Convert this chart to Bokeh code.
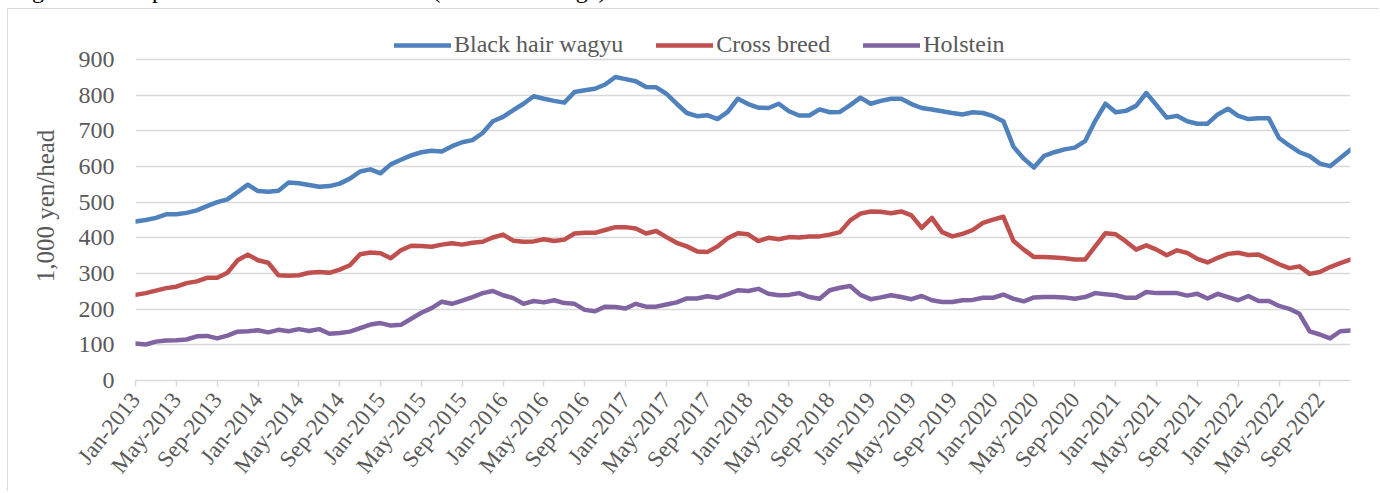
import math
from bokeh.plotting import figure
from bokeh.layouts import column
from bokeh.models import Range1d, FixedTicker, Legend, LegendItem, Div
from bokeh.embed import file_html
from bokeh.resources import INLINE

tick_labels = ["Jan-2013", "May-2013", "Sep-2013", "Jan-2014", "May-2014", "Sep-2014",
               "Jan-2015", "May-2015", "Sep-2015", "Jan-2016", "May-2016", "Sep-2016",
               "Jan-2017", "May-2017", "Sep-2017", "Jan-2018", "May-2018", "Sep-2018",
               "Jan-2019", "May-2019", "Sep-2019", "Jan-2020", "May-2020", "Sep-2020",
               "Jan-2021", "May-2021", "Sep-2021", "Jan-2022", "May-2022", "Sep-2022"]

black_wagyu = [446, 450, 456, 466, 466, 470, 477, 489, 500, 508, 528, 549,
               531, 529, 532, 555, 553, 548, 543, 545, 552, 566, 586, 592,
               581, 606, 619, 631, 640, 644, 642, 657, 668, 674, 694, 727,
               739, 758, 776, 797, 790, 784, 779, 809, 814, 818, 830, 851,
               845, 839, 823, 822, 804, 776, 750, 741, 744, 733, 753, 790,
               775, 765, 764, 776, 755, 743, 743, 760, 752, 753, 772, 793,
               776, 784, 790, 790, 775, 764, 760, 755, 750, 746, 752, 750,
               741, 727, 655, 622, 597, 630, 640, 648, 653, 671, 728, 776,
               752, 756, 770, 806, 772, 737, 742, 727, 720, 720, 746, 762,
               742, 733, 735, 735, 680, 659, 640, 629, 608, 601, 624, 647]

cross_breed = [240, 245, 252, 259, 263, 273, 278, 288, 288, 302, 337, 353,
               337, 330, 295, 294, 295, 302, 304, 302, 311, 323, 354, 359,
               357, 343, 365, 378, 377, 375, 381, 385, 381, 386, 389, 401,
               409, 392, 389, 390, 396, 391, 395, 412, 414, 414, 422, 430,
               430, 426, 412, 419, 402, 386, 376, 362, 360, 376, 399, 413,
               410, 391, 400, 396, 402, 401, 404, 404, 409, 416, 449, 468,
               474, 473, 469, 474, 463, 428, 456, 416, 404, 411, 422, 442,
               451, 459, 391, 367, 346, 346, 345, 343, 339, 339, 376, 413,
               410, 390, 367, 379, 367, 351, 365, 358, 341, 331, 344, 355,
               358, 352, 353, 340, 326, 315, 320, 299, 304, 318, 329, 339]

holstein = [104, 101, 109, 112, 113, 115, 124, 125, 118, 126, 137, 138,
            141, 135, 142, 138, 144, 139, 144, 131, 133, 137, 147, 157,
            161, 154, 156, 173, 190, 203, 221, 215, 224, 234, 245, 251,
            239, 231, 215, 223, 219, 225, 217, 215, 198, 194, 207, 206,
            202, 215, 207, 207, 213, 219, 230, 230, 236, 232, 242, 253,
            251, 257, 243, 239, 240, 245, 234, 229, 253, 260, 265, 240,
            228, 233, 239, 234, 228, 237, 225, 220, 220, 225, 226, 232,
            232, 241, 229, 222, 233, 234, 234, 233, 229, 234, 245, 242,
            239, 232, 232, 248, 245, 245, 245, 238, 243, 230, 243, 234,
            225, 237, 223, 223, 209, 201, 187, 138, 129, 118, 138, 140]

series_names = ["Black hair wagyu", "Cross breed", "Holstein"]
series_colors = ["#4f81bd", "#c0504d", "#8064a2"]
y_ticks = [0, 100, 200, 300, 400, 500, 600, 700, 800, 900]
y_label = "1,000 yen/head"
caption = "Figure 8: Comparison of Calf Market Price (national average)"

months = list(range(len(black_wagyu)))
FONT = "Liberation Serif"
TXT = "#595959"
GRID = "#d9d9d9"

# frame extends a little above 900 so the legend (inside the frame) sits above the top gridline
p = figure(width=1372, height=483, output_backend="svg", toolbar_location=None,
           x_range=Range1d(0, len(months) - 1), y_range=Range1d(0, 978.5),
           min_border_left=127, min_border_right=30, min_border_top=22,
           min_border_bottom=112, margin=(0, 0, 0, 7),
           styles={"border-left": "1.5px solid #d9d9d9", "border-top": "1.5px solid #d9d9d9"})
p.outline_line_color = None
p.background_fill_color = "white"
p.border_fill_color = "white"
p.xgrid.visible = False
p.ygrid.grid_line_color = GRID
p.ygrid.grid_line_width = 1.5

p.yaxis.ticker = FixedTicker(ticks=y_ticks)
p.yaxis.axis_line_color = None
p.yaxis.major_tick_line_color = None
p.yaxis.minor_tick_line_color = None
p.yaxis.major_label_text_font = FONT
p.yaxis.major_label_text_font_size = "24px"
p.yaxis.major_label_text_color = TXT
p.yaxis.major_label_standoff = 15
p.yaxis.axis_label = y_label
p.yaxis.axis_label_text_font = FONT
p.yaxis.axis_label_text_font_size = "25px"
p.yaxis.axis_label_text_font_style = "normal"
p.yaxis.axis_label_text_color = TXT
p.yaxis.axis_label_standoff = 17

tick_pos = [4 * k for k in range(len(tick_labels))]
p.xaxis.ticker = FixedTicker(ticks=tick_pos)
p.xaxis.major_label_overrides = {t: lab for t, lab in zip(tick_pos, tick_labels)}
p.xaxis.axis_line_color = GRID
p.xaxis.axis_line_width = 1.5
p.xaxis.major_tick_line_color = GRID
p.xaxis.major_tick_line_width = 1.5
p.xaxis.major_tick_out = 6
p.xaxis.major_tick_in = 0
p.xaxis.minor_tick_line_color = None
p.xaxis.major_label_orientation = math.radians(51)
p.xaxis.major_label_text_font = FONT
p.xaxis.major_label_text_font_size = "23px"
p.xaxis.major_label_text_color = TXT
p.xaxis.major_label_standoff = 9

renderers = []
for vals, name, col in zip([black_wagyu, cross_breed, holstein], series_names, series_colors):
    r = p.line(months, vals, line_color=col, line_width=4.5, line_join="round", line_cap="round")
    renderers.append(r)

legend = Legend(items=[LegendItem(label=n, renderers=[r]) for n, r in zip(series_names, renderers)],
                orientation="horizontal", location=(259, 322),
                label_text_font=FONT, label_text_font_size="24px", label_text_color=TXT,
                glyph_width=57, glyph_height=20, label_standoff=3, spacing=33,
                padding=0, margin=0, border_line_color=None, background_fill_alpha=0)
p.add_layout(legend)

cap_div = Div(text=('<div style="position:relative; top:-23px; left:12px; white-space:nowrap; '
                    'font-family:\'Liberation Serif\'; font-size:24px; line-height:normal; color:#000;">'
                    + caption + '</div>'),
              width=1380, height=8, margin=0, styles={"overflow": "hidden"})

layout = column(cap_div, p, spacing=0, margin=0)

open("out.html", "w").write(file_html(layout, INLINE))
